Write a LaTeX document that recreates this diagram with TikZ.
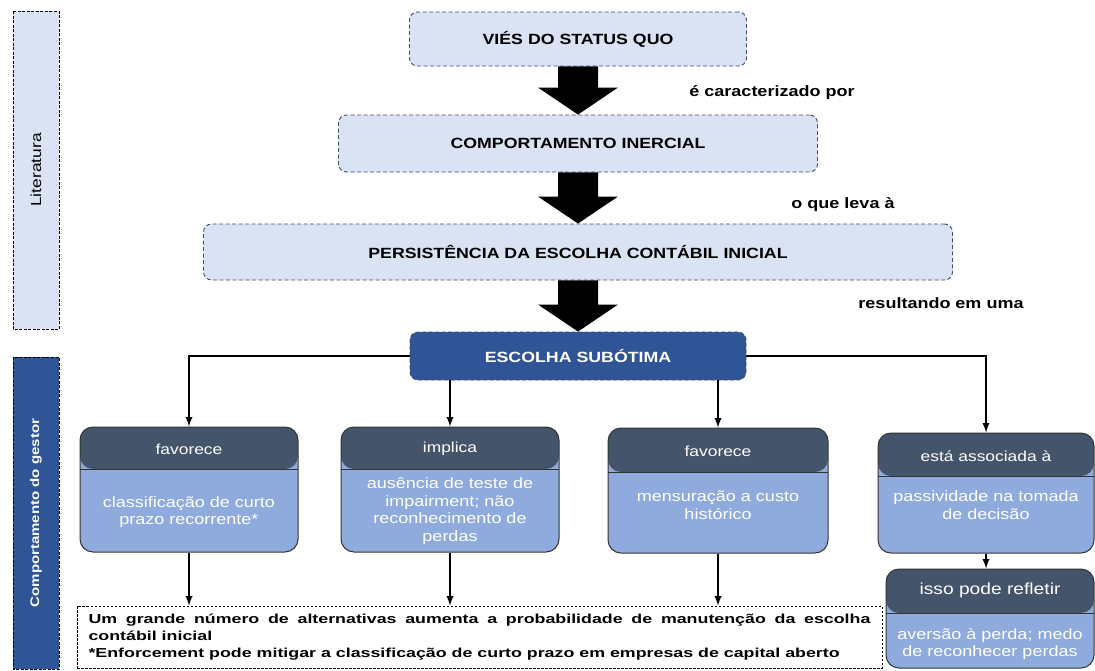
\documentclass[tikz,border=0pt]{standalone}
\usepackage{fontspec}
\setmainfont[FakeStretch=1.2]{Liberation Sans}
\newfontfamily\notefont[FakeStretch=1.37]{Liberation Sans}
\usepackage{tikz}
\usetikzlibrary{calc}
\tikzset{>=latex}
\definecolor{lightblue}{HTML}{DAE3F3}
\definecolor{darkblue}{HTML}{2F5597}
\definecolor{slate}{HTML}{44546A}
\definecolor{midblue}{HTML}{8FAADC}
\definecolor{dashblue}{HTML}{3E4C66}

% thick block arrow between two stacked boxes
\newcommand{\bigarrow}[2]{\fill ($(#1.south)+(-20,0)$) -- ($(#2.north)+(-20,27)$) -- ($(#2.north)+(-40,27)$) -- (#2.north) -- ($(#2.north)+(40,27)$) -- ($(#2.north)+(20,27)$) -- ($(#1.south)+(20,0)$) -- cycle;}

\begin{document}
\begin{tikzpicture}[x=1pt, y=1pt,
	topbox/.style={draw=dashblue, dash pattern=on 4pt off 2.5pt, line width=0.9pt, fill=lightblue, rounded corners=8pt, font=\fontsize{14.8}{17}\selectfont\bfseries},
	sidebox/.style={draw=black, dash pattern=on 3pt off 1.5pt, line width=0.9pt, rotate=90, minimum height=46pt, inner sep=0pt},
	linklabel/.style={font=\fontsize{15}{17}\selectfont\bfseries},
	card/.style={draw=black!80, line width=1pt, fill=midblue, rounded corners=13pt, minimum width=218pt, minimum height=125pt,
		path picture={\fill[slate] (path picture bounding box.north west) rectangle ([yshift=-#1]path picture bounding box.north east);
			\draw[black!80, line width=1pt] ([yshift=-#1]path picture bounding box.north west) -- ([yshift=-#1]path picture bounding box.north east);}},
	headtxt/.style={text=white, font=\fontsize{14.5}{16}\selectfont},
	bodytxt/.style={text=white, align=center, font=\fontsize{15}{17.5}\selectfont},
	link/.style={->, line width=2.2pt}]
	\useasboundingbox (0,0) rectangle (1095,-670);

	\node[sidebox, fill=lightblue, minimum width=318pt, font=\fontsize{14.5}{17}\selectfont] (lit) at (36,-170) {Literatura};
	\node[sidebox, fill=darkblue, minimum width=312pt, text=white, font=\fontsize{12.5}{15}\selectfont\bfseries] (gestor) at (36,-513) {Comportamento do gestor};

	\node[topbox, minimum width=337pt, minimum height=54pt] (vies) at (578,-39) {VIÉS DO STATUS QUO};
	\node[topbox, minimum width=479pt, minimum height=57pt] (inercia) at (578,-143.5) {COMPORTAMENTO INERCIAL};
	\node[topbox, minimum width=749pt, minimum height=56pt] (persist) at (578,-252) {PERSISTÊNCIA DA ESCOLHA CONTÁBIL INICIAL};
	\node[topbox, fill=darkblue, text=white, minimum width=336pt, minimum height=48pt] (esc) at (578,-356) {ESCOLHA SUBÓTIMA};

	\bigarrow{vies}{inercia}
	\bigarrow{inercia}{persist}
	\bigarrow{persist}{esc}
	\node[linklabel] (l1) at (772,-93) {é caracterizado por};
	\node[linklabel] (l2) at (843,-205) {o que leva à};
	\node[linklabel] (l3) at (941,-303) {resultando em uma};

	\node[card=42pt] (c1) at (189,-489.5) {};
	\node[card=42pt] (c2) at (450,-489.5) {};
	\node[card=44pt, minimum width=220pt] (c3) at (718,-490.5) {};
	\node[card=43pt, minimum width=216pt, minimum height=120pt] (c4) at (986,-493) {};
	\node[card=44pt, minimum width=208pt, minimum height=99pt] (c5) at (990,-618.5) {};

	\node[headtxt] (h1) at (189,-449) {favorece};
	\node[headtxt] (h2) at (450,-449) {implica};
	\node[headtxt] (h3) at (718,-451) {favorece};
	\node[headtxt] (h4) at (986,-456) {está associada à};
	\node[headtxt, font=\fontsize{16}{18}\selectfont] (h5) at (990,-590) {isso pode refletir};

	\node[bodytxt] (t1) at (189,-512) {classificação de curto\\prazo recorrente*};
	\node[bodytxt] (t2) at (450,-511) {ausência de teste de\\impairment; não\\reconhecimento de\\perdas};
	\node[bodytxt] (t3) at (718,-505) {mensuração a custo\\histórico};
	\node[bodytxt] (t4) at (986,-505) {passividade na tomada\\de decisão};
	\node[bodytxt] (t5) at (990,-644) {aversão à perda; medo\\de reconhecer perdas};

	\node[draw=black, dash pattern=on 2.5pt off 1.5pt, line width=0.8pt, minimum height=62pt, text width=782pt, inner xsep=11.5pt, align=justify, font=\notefont\fontsize{13}{17}\selectfont\bfseries] (note) at (479.5,-637) {Um grande número de alternativas aumenta a probabilidade de manutenção da escolha\linebreak contábil inicial\newline *Enforcement pode mitigar a classificação de curto prazo em empresas de capital aberto};

	\draw[link] (esc.west) -| (c1.north);
	\draw[link] (esc.south -| c2.north) -- (c2.north);
	\draw[link] (esc.south -| c3.north) -- (c3.north);
	\draw[link] (esc.east) -| (c4.north);
	\draw[link] (c1.south) -- (c1.south |- note.north);
	\draw[link] (c2.south) -- (c2.south |- note.north);
	\draw[link] (c3.south) -- (c3.south |- note.north);
	\draw[link] (c4.south) -- (c4.south |- c5.north);
\end{tikzpicture}
\end{document}
